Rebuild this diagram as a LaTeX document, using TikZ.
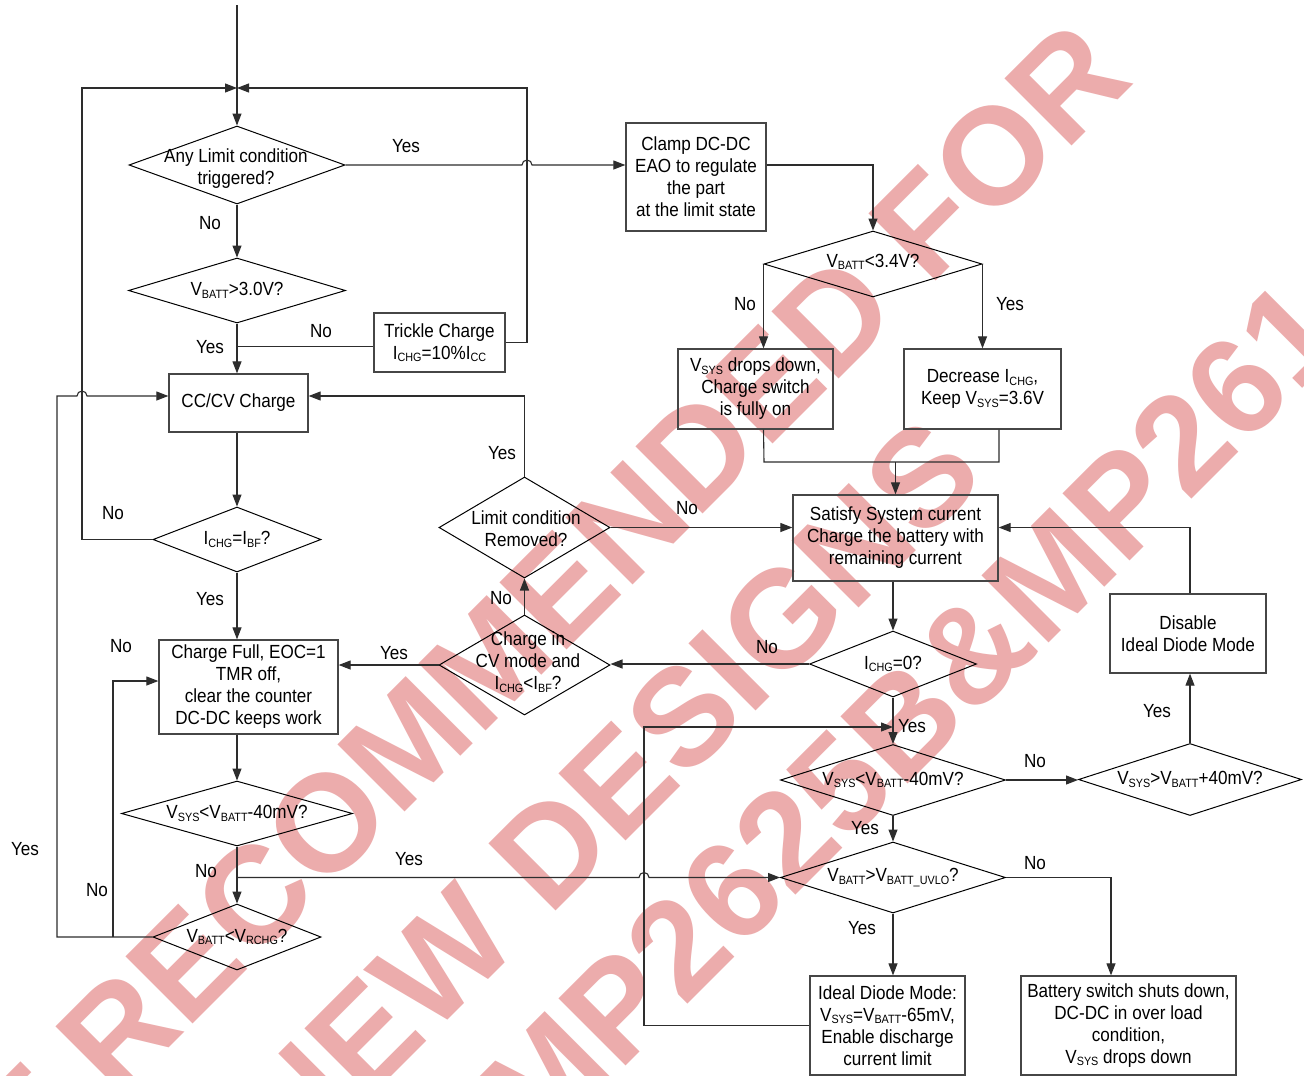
\documentclass[tikz,border=0pt]{standalone}
\usepackage{fontspec}
\setmainfont{Liberation Sans}[FakeStretch=0.9]
\newfontfamily\wmfont{Liberation Sans}
\usetikzlibrary{shapes.geometric,arrows.meta,calc}
\definecolor{wm}{RGB}{236,172,172}
\definecolor{ln}{RGB}{45,45,45}
\definecolor{bx}{RGB}{70,70,70}
\newcommand\sbs[1]{\raisebox{-2.5pt}{\fontsize{12}{12}\selectfont#1}}
\begin{document}
\begin{tikzpicture}[x=1pt,y=-1pt,
  font=\fontsize{19}{22}\selectfont,
  conn/.style={draw=ln,line width=1.1pt},
  arr/.style={conn,-{Triangle[length=12pt,width=9pt]}},
  stepbox/.style={draw=bx,line width=1.3pt,rectangle,inner sep=0pt,align=center},
  dia/.style={draw=black,line width=1pt,diamond,inner sep=0pt},
  dtext/.style={inner sep=0pt,align=center},
  lab/.style={inner sep=0pt},
  wmtext/.style={text=wm,inner sep=0pt,rotate=45,font=\wmfont\bfseries\fontsize{138}{138}\selectfont}
]
\useasboundingbox (0,0) rectangle (1304,1076);
\fill[white] (0,0) rectangle (1304,1076);
\begin{scope}
\clip (0,0) rectangle (1304,1076);
\node[wmtext] (w1) at (476,674) {NOT RECOMMENDED FOR};
\node[wmtext] (w2) at (608,792) {NEW DESIGNS};
\node[wmtext] (w3) at (911,713) {MP2625B\&MP261};
\end{scope}

% boxes
\node[stepbox,minimum width=140,minimum height=108] (clamp) at (696,177) {Clamp DC-DC\\EAO to regulate\\the part\\at the limit state};
\node[stepbox,minimum width=131,minimum height=59] (trickle) at (439.5,342.5) {Trickle Charge\\I\sbs{CHG}=10\%I\sbs{CC}};
\node[stepbox,minimum width=139,minimum height=58] (cccv) at (238.5,403) {CC/CV Charge};
\node[stepbox,minimum width=179,minimum height=94] (full) at (248.5,687) {Charge Full, EOC=1\\TMR off,\\clear the counter\\DC-DC keeps work};
\node[stepbox,minimum width=155,minimum height=80] (vsys) at (755.5,389) {V\sbs{SYS} drops down,\\Charge switch\\is fully on};
\node[stepbox,minimum width=157,minimum height=80] (decr) at (982.5,389) {Decrease I\sbs{CHG},\\Keep V\sbs{SYS}=3.6V};
\node[stepbox,minimum width=205,minimum height=86] (satisfy) at (895.5,538) {Satisfy System current\\Charge the battery with\\remaining current};
\node[stepbox,minimum width=156,minimum height=79] (disable) at (1188,633.5) {Disable\\Ideal Diode Mode};
\node[stepbox,minimum width=155,minimum height=99] (ideal) at (887.5,1025.5) {Ideal Diode Mode:\\V\sbs{SYS}=V\sbs{BATT}-65mV,\\Enable discharge\\current limit};
\node[stepbox,minimum width=215,minimum height=99] (battery) at (1128.5,1025.5) {Battery switch shuts down,\\DC-DC in over load\\condition,\\V\sbs{SYS} drops down};

% diamonds
\node[dia,minimum width=216,minimum height=78] (d1) at (237,165) {};
\node[dia,minimum width=217,minimum height=65] (d2) at (237,290.5) {};
\node[dia,minimum width=168,minimum height=65] (d3) at (237,539.5) {};
\node[dia,minimum width=231,minimum height=65] (d4) at (237,813.5) {};
\node[dia,minimum width=168,minimum height=66] (d5) at (237,937) {};
\node[dia,minimum width=218,minimum height=66] (d6) at (873,264) {};
\node[dia,minimum width=171,minimum height=101] (d7) at (524.5,527.5) {};
\node[dia,minimum width=171,minimum height=100] (d9) at (524.5,665) {};
\node[dia,minimum width=167,minimum height=66] (d8) at (893,664) {};
\node[dia,minimum width=225,minimum height=71] (d10) at (893,780) {};
\node[dia,minimum width=223,minimum height=72] (d11) at (1190,779.5) {};
\node[dia,minimum width=225,minimum height=71] (d12) at (893,877.5) {};

\node[dtext] (t1) at (236,169) {Any Limit condition\\triggered?};
\node[dtext] (t2) at (d2) {V\sbs{BATT}>3.0V?};
\node[dtext] (t3) at (d3) {I\sbs{CHG}=I\sbs{BF}?};
\node[dtext] (t4) at (d4) {V\sbs{SYS}<V\sbs{BATT}-40mV?};
\node[dtext] (t5) at (d5) {V\sbs{BATT}<V\sbs{RCHG}?};
\node[dtext] (t6) at (873,262) {V\sbs{BATT}<3.4V?};
\node[dtext] (t7) at (526,529) {Limit condition\\Removed?};
\node[dtext] (t9) at (528,662) {Charge in\\CV mode and\\I\sbs{CHG}<I\sbs{BF}?};
\node[dtext] (t8) at (d8) {I\sbs{CHG}=0?};
\node[dtext] (t10) at (d10) {V\sbs{SYS}<V\sbs{BATT}-40mV?};
\node[dtext] (t11) at (d11) {V\sbs{SYS}>V\sbs{BATT}+40mV?};
\node[dtext] (t12) at (d12) {V\sbs{BATT}>V\sbs{BATT\_UVLO}?};

% helper coordinates
\coordinate (start) at (237,5);
\coordinate (jn) at (237,88);
\coordinate (lx) at (82,88);
\coordinate (rx) at (527,88);
\coordinate (c1) at (57,396);
\coordinate (j2) at (237,346.5);
\coordinate (j5) at (113,937);
\coordinate (j6) at (113,681);
\coordinate (m1) at (764,462);
\coordinate (m2) at (999,462);
\coordinate (lp) at (644,727);
\coordinate (bt) at (1111,877.5);

% connectors left
\draw[arr] (start) -- (d1.north);
\draw[arr] (d1.south) -- (d2.north);
\draw[arr] (d2.south) -- (d2.south |- cccv.north);
\draw[conn] (j2) -- (j2 -| trickle.west);
\draw[arr] (trickle.east) -| (rx) -- (jn);
\draw[arr] (d1.east) -- ($(d1.east -| rx)+(-5,0)$) arc[start angle=180,end angle=360,radius=5] -- (d1.east -| clamp.west);
\draw[arr] (clamp.east |- d1.east) -| (d6.north);
\draw[arr] (d3.north |- cccv.south) -- (d3.north);
\draw[arr] (d3.west) -| (lx) -- (jn);
\draw[arr] (d3.south) -- (d3.south |- full.north);
\draw[arr] (d4.north |- full.south) -- (d4.north);
\draw[arr] (d4.south) -- (d5.north);
\draw[arr] (d12.west -| d4.south) -- ($(d12.west -| lp)+(-5,0)$) arc[start angle=180,end angle=360,radius=5] -- (d12.west);
\draw[arr] (d5.west) -| (c1) -- ($(c1 -| lx)+(-5,0)$) arc[start angle=180,end angle=360,radius=5] -- (c1 -| cccv.west);
\draw[arr] (j5) -- (j6) -- (j6 -| full.west);

% connectors right
\draw[arr] (d6.west) -- (d6.west |- vsys.north);
\draw[arr] (d6.east) -- (d6.east |- decr.north);
\draw[conn] (d6.west |- vsys.south) -- (m1) -- (m2) -- (m2 |- decr.south);
\draw[arr] (satisfy.north |- m1) -- (satisfy.north);
\draw[arr] (d7.east) -- (d7.east -| satisfy.west);
\draw[arr] (d7.north) |- (c1 -| cccv.east);
\draw[arr] (d8.north |- satisfy.south) -- (d8.north);
\draw[arr] (d8.west) -- (d8.west -| d9.east);
\draw[arr] (d9.west) -- (d9.west -| full.east);
\draw[arr] (d9.north) -- (d7.south);
\draw[arr] (d8.south) -- (d10.north);
\draw[arr] (d10.south) -- (d12.north);
\draw[arr] (d10.east) -- (d10.east -| d11.west);
\draw[arr] (d11.north) -- (d11.north |- disable.south);
\draw[arr] (d11.north |- disable.north) |- (d7.east -| satisfy.east);
\draw[arr] (d12.south) -- (d12.south |- ideal.north);
\draw[arr] (d12.east) -| (bt |- battery.north);
\draw[arr] (ideal.west) -| (lp) -- (lp -| d10.north);

% labels
\node[lab] (l1) at (406,146) {Yes};
\node[lab] (l2) at (210,223) {No};
\node[lab] (l3) at (321,331) {No};
\node[lab] (l4) at (210,347) {Yes};
\node[lab] (l5) at (502,453) {Yes};
\node[lab] (l6) at (113,513) {No};
\node[lab] (l7) at (210,599) {Yes};
\node[lab] (l8) at (121,646) {No};
\node[lab] (l9) at (394,653) {Yes};
\node[lab] (l10) at (501,598) {No};
\node[lab] (l11) at (25,849) {Yes};
\node[lab] (l12) at (97,890) {No};
\node[lab] (l13) at (206,871) {No};
\node[lab] (l14) at (409,859) {Yes};
\node[lab] (l15) at (745,304) {No};
\node[lab] (l16) at (1010,304) {Yes};
\node[lab] (l17) at (687,508) {No};
\node[lab] (l18) at (767,647) {No};
\node[lab] (l19) at (912,726) {Yes};
\node[lab] (l20) at (1035,761) {No};
\node[lab] (l21) at (1157,711) {Yes};
\node[lab] (l22) at (865,828) {Yes};
\node[lab] (l23) at (1035,863) {No};
\node[lab] (l24) at (862,928) {Yes};
\end{tikzpicture}
\end{document}
